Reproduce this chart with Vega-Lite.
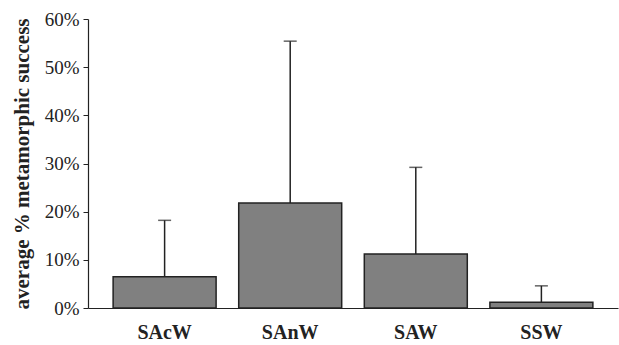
{
  "$schema": "https://vega.github.io/schema/vega-lite/v6.json",
  "width": 530,
  "height": 289,
  "autosize": {"type": "none"},
  "padding": {"left": 88, "top": 19, "right": 1, "bottom": 37},
  "background": "white",
  "config": {
    "view": {"stroke": null},
    "font": "Liberation Serif",
    "axis": {"grid": false, "domainColor": "#222", "tickColor": "#222", "labelColor": "#222", "titleColor": "#222", "labelFont": "Liberation Serif", "titleFont": "Liberation Serif"}
  },
  "data": {
    "values": [
      {"group": "SAcW", "mean": 0.065, "upper": 0.182},
      {"group": "SAnW", "mean": 0.218, "upper": 0.554},
      {"group": "SAW", "mean": 0.112, "upper": 0.292},
      {"group": "SSW", "mean": 0.012, "upper": 0.046}
    ]
  },
  "encoding": {
    "x": {
      "field": "group",
      "type": "nominal",
      "sort": null,
      "scale": {"paddingInner": 0.18, "paddingOuter": 0.2},
      "axis": {"title": null, "labelAngle": 0, "labelFontSize": 20, "labelFontWeight": "bold", "labelPadding": 14, "ticks": false, "domainWidth": 1.2}
    }
  },
  "layer": [
    {
      "mark": {"type": "rule", "color": "#222", "strokeWidth": 1.5},
      "encoding": {
        "y": {"field": "mean", "type": "quantitative"},
        "y2": {"field": "upper"}
      }
    },
    {
      "mark": {"type": "tick", "orient": "horizontal", "color": "#222", "size": 13, "thickness": 1.5},
      "encoding": {
        "y": {"field": "upper", "type": "quantitative"}
      }
    },
    {
      "mark": {"type": "bar", "fill": "#808080", "stroke": "#222", "strokeWidth": 1.5},
      "encoding": {
        "y": {
          "field": "mean",
          "type": "quantitative",
          "scale": {"domain": [0, 0.6], "nice": false},
          "axis": {"title": "average % metamorphic success", "format": ".0%", "values": [0, 0.1, 0.2, 0.3, 0.4, 0.5, 0.6], "labelFontSize": 19, "tickSize": 5, "labelPadding": 4, "titleFontSize": 21, "titleFontWeight": "bold", "titlePadding": 12, "domainWidth": 1.2}
        }
      }
    }
  ]
}
